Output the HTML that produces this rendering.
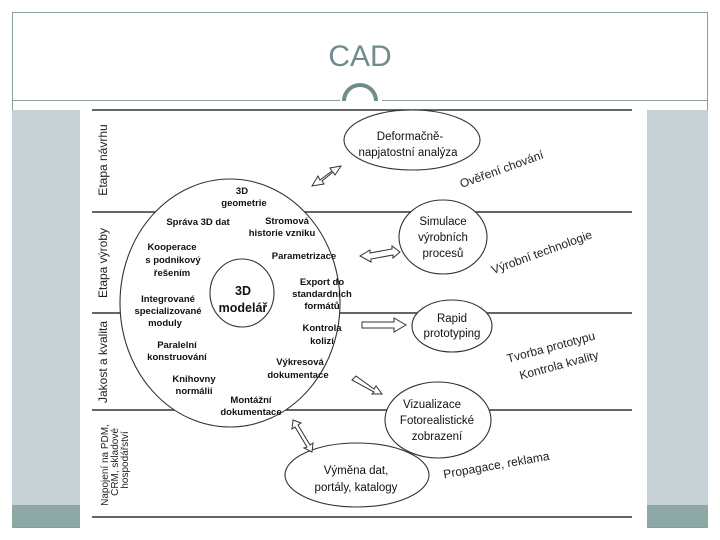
<!DOCTYPE html>
<html><head><meta charset="utf-8"><style>
html,body{margin:0;padding:0;background:#fff;}
svg{display:block;}
.b{font-family:"Liberation Sans",sans-serif;font-weight:bold;font-size:9.5px;fill:#111;text-anchor:middle;}
.e{font-family:"Liberation Sans",sans-serif;font-size:11.5px;fill:#111;text-anchor:middle;}
.l{font-family:"Liberation Sans",sans-serif;font-size:11px;fill:#222;text-anchor:middle;}
</style></head><body>
<svg width="720" height="540" viewBox="0 0 720 540" xmlns="http://www.w3.org/2000/svg">
<rect x="0" y="0" width="720" height="540" fill="#fff"/>
<rect x="12.5" y="12.5" width="695" height="515" fill="none" stroke="#8a9c9c" stroke-width="1"/>
<line x1="12" y1="100.5" x2="340" y2="100.5" stroke="#8a9c9c"/>
<line x1="382" y1="100.5" x2="708" y2="100.5" stroke="#8a9c9c"/>
<rect x="12" y="110" width="696" height="395" fill="#c5d1d5"/>
<rect x="12" y="505" width="696" height="22" fill="#8ea8a6"/>
<text x="360" y="66" font-family="Liberation Sans,sans-serif" font-size="30" fill="#6f8b8b" text-anchor="middle">CAD</text>
<rect x="80" y="104" width="567" height="424" fill="#fff"/>
<path d="M344 101 A16 16 0 0 1 376 101" fill="none" stroke="#6f8b8b" stroke-width="4"/>
<rect x="340" y="101" width="40" height="3" fill="#fff"/>
<g stroke="#333" stroke-width="1.4">
<line x1="92" y1="110" x2="632" y2="110"/>
<line x1="92" y1="212" x2="632" y2="212"/>
<line x1="92" y1="313" x2="632" y2="313"/>
<line x1="92" y1="410" x2="632" y2="410"/>
<line x1="92" y1="517" x2="632" y2="517"/>
</g>
<g fill="#fff" stroke="#333" stroke-width="1.1">
<ellipse cx="230" cy="303" rx="110" ry="124"/>
<ellipse cx="242" cy="293" rx="32" ry="34"/>
<ellipse cx="412" cy="140" rx="68" ry="30"/>
<ellipse cx="443" cy="237" rx="44" ry="37"/>
<ellipse cx="452" cy="326" rx="40" ry="26"/>
<ellipse cx="438" cy="420" rx="53" ry="38"/>
<ellipse cx="357" cy="475" rx="72" ry="32"/>
</g>
<g fill="#fff" stroke="#333" stroke-width="1">
<polygon points="312,186 318,176 320,180 332,171 330,168 341,166 335,175 333,172 322,181 324,184"/>
<polygon points="360,256 370,250 370,253 392,249 392,246 400,252 393,258 393,255 371,259 371,262"/>
<polygon points="362,322 394,322 394,318 406,325 394,332 394,328 362,328"/>
<polygon points="352,380 356,376 374,389 376,386 382,394 372,394 374,392"/>
<polygon points="293,420 301,423 298,425 310,445 313,443 312,452 304,448 307,447 295,427 292,429"/>
</g>
<g class="b">
<text x="242" y="194">3D</text><text x="244" y="206">geometrie</text>
<text x="198" y="225">Správa 3D dat</text>
<text x="287" y="224">Stromová</text><text x="282" y="236">historie vzniku</text>
<text x="172" y="250">Kooperace</text><text x="173" y="263">s podnikový</text><text x="172" y="276">řešením</text>
<text x="304" y="259">Parametrizace</text>
<text x="322" y="285">Export do</text><text x="322" y="297">standardních</text><text x="322" y="309">formátů</text>
<text x="168" y="302">Integrované</text><text x="168" y="314">specializované</text><text x="165" y="326">moduly</text>
<text x="322" y="331">Kontrola</text><text x="322" y="344">kolizí</text>
<text x="177" y="348">Paralelní</text><text x="177" y="360">konstruování</text>
<text x="300" y="365">Výkresová</text><text x="298" y="378">dokumentace</text>
<text x="194" y="382">Knihovny</text><text x="194" y="394">normálií</text>
<text x="251" y="403">Montážní</text><text x="251" y="415">dokumentace</text>
</g>
<text x="243" y="295" class="b" style="font-size:12.5px">3D</text>
<text x="243" y="312" class="b" style="font-size:12.5px">modelář</text>
<g class="e">
<text x="410" y="140">Deformačně-</text><text x="408" y="156">napjatostní analýza</text>
<text x="443" y="225">Simulace</text><text x="443" y="241">výrobních</text><text x="443" y="257">procesů</text>
<text x="452" y="322">Rapid</text><text x="452" y="337">prototyping</text>
<text x="432" y="408">Vizualizace</text><text x="437" y="424">Fotorealistické</text><text x="437" y="440">zobrazení</text>
<text x="356" y="474">Výměna dat,</text><text x="356" y="491">portály, katalogy</text>
</g>
<g class="l" style="font-size:12px">
<text transform="translate(503,173) rotate(-20)">Ověření chování</text>
<text transform="translate(543,256) rotate(-20)">Výrobní technologie</text>
<text transform="translate(552,351) rotate(-15)">Tvorba prototypu</text>
<text transform="translate(560,369) rotate(-15)">Kontrola kvality</text>
<text transform="translate(497,469) rotate(-10)">Propagace, reklama</text>
</g>
<g class="l" style="font-size:12px">
<text transform="translate(107,160) rotate(-90)">Etapa návrhu</text>
<text transform="translate(107,263) rotate(-90)">Etapa výroby</text>
<text transform="translate(107,362) rotate(-90)">Jakost a kvalita</text>
</g>
<g class="l" style="font-size:10px">
<text transform="translate(108,465) rotate(-90)">Napojení na PDM,</text>
<text transform="translate(118,462) rotate(-90)">CRM, skladové</text>
<text transform="translate(128,460) rotate(-90)">hospodářství</text>
</g>
</svg>
</body></html>
